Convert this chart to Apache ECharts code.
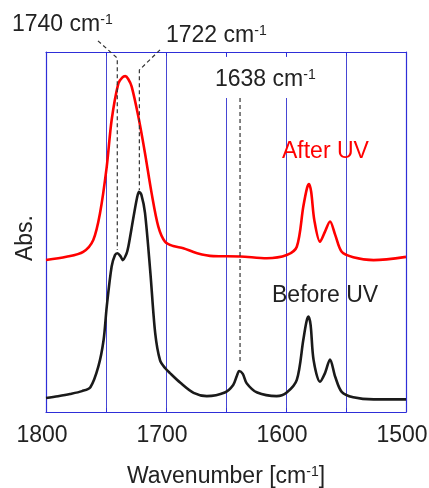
<!DOCTYPE html>
<html>
<head>
<meta charset="utf-8">
<script src="https://cdn.jsdelivr.net/npm/echarts@6/dist/echarts.min.js"></script>
<style>
html,body{margin:0;padding:0;background:#fff;}
#c{width:429px;height:488px;}
</style>
</head>
<body>
<div id="c"></div>
<script>
// Wavenumber [cm-1], absorbance (arbitrary units, offset)
var beforeUV = [
  [1800,3.9],[1790,4.4],[1780,5.0],[1770,5.8],[1763,6.9],[1756.4,12.6],[1752,20],[1749.4,29.2],
  [1745.3,40.4],[1742.5,43.6],[1740.5,44.1],[1738,43.3],[1736,42.2],[1733,43.9],[1731.4,45.9],
  [1727,54.3],[1724,59.7],[1722.5,61.2],[1720.5,60.3],[1717.5,55.3],[1713,38.6],[1709,21.9],
  [1705,14.4],[1700.8,12.2],[1696.7,10.8],[1688,8.1],[1677,5.3],[1666,4.4],[1651,5.4],[1644,7.5],
  [1641,10],[1639,11.4],[1636,10.6],[1632.8,8.0],[1624,5.4],[1607.8,4.4],[1599.4,5.4],[1591,8.9],
  [1585.6,20],[1583,25],[1581.4,26.5],[1579.5,24.2],[1577,14.4],[1571.7,8.4],[1567.5,10.8],
  [1563.3,14.6],[1559,9.8],[1553.6,5.6],[1544,4.1],[1527,3.5],[1500,3.5]
];
var afterUV = [
  [1800,42.2],[1783,43.1],[1769,44.5],[1760.6,47.8],[1755,55.2],[1749.4,68.1],[1745.3,81.1],
  [1739.7,91.3],[1736.5,92.9],[1734,93.3],[1731.5,92.5],[1728.6,90.4],[1723,82.0],[1717.5,71.9],
  [1712,60.8],[1706.4,51.5],[1700.8,47.3],[1694,46.1],[1685.6,45.5],[1674,44.1],[1660.6,43.3],
  [1638,43.2],[1616,42.7],[1599.4,43.6],[1591,45.9],[1585.6,57.0],[1582.5,62.2],[1580.8,63.3],
  [1579,61.1],[1576.4,53.3],[1571.7,47.3],[1567.5,50.1],[1563.3,52.9],[1559,49.2],[1553.6,44.5],
  [1544,43.0],[1527,42.2],[1500,43.1]
];
// annotation leader lines (data coordinates)
var lead1740 = [[1756.7,103.1],[1740.6,98.3],[1740.6,45]];
var lead1722 = [[1705,100.6],[1722.2,95],[1722.2,61.7]];
var lead1638 = [[1638.3,87.2],[1638.3,13.9]];
var xTickLabels = [1800,1700,1600,1500];

var chart = echarts.init(document.getElementById('c'));
var blue = '#2e2ed8';
var gridBlue = '#4646d4';
var txt = '#222222';
var FONT = 'Liberation Sans, Arial, sans-serif';
var rich = {
  a:{fontSize:23,lineHeight:23,fontFamily:FONT,color:txt},
  s:{fontSize:14,lineHeight:14,fontFamily:FONT,color:txt,verticalAlign:'top'}
};
function dashed(data){
  return {type:'line',data:data,showSymbol:false,symbol:'none',clip:false,z:5,silent:true,
    lineStyle:{color:'#333',width:1.2,type:[4,3]}};
}
function lbl(text,x,y,color){
  var r = JSON.parse(JSON.stringify(rich));
  if(color){r.a.color=color;r.s.color=color;}
  return {type:'text',x:x,y:y,z:10,style:{text:text,rich:r,verticalAlign:'top',fill:color||txt,font:'23px '+FONT}};
}
chart.setOption({
  animation:false,
  backgroundColor:'#fff',
  grid:{left:46,right:23,top:52,bottom:76,containLabel:false,outerBoundsMode:'none'},
  xAxis:[{
    type:'value',min:1500,max:1800,interval:50,inverse:true,position:'bottom',
    axisLine:{show:true,onZero:false,lineStyle:{color:blue,width:1.2}},
    axisTick:{show:true,inside:true,length:4,lineStyle:{color:blue}},
    axisLabel:{margin:12,fontSize:23,fontFamily:FONT,color:txt,padding:[0,8,0,0],
      formatter:function(v){return xTickLabels.indexOf(v)>=0?String(v):'';}},
    splitLine:{show:true,lineStyle:{color:gridBlue,width:1}},
    name:'{a|Wavenumber [cm}{s|-1}{a|]}',nameLocation:'middle',nameGap:53,
    nameTextStyle:{rich:rich}
  },{
    type:'value',min:1500,max:1800,interval:50,inverse:true,position:'top',
    axisLine:{show:true,onZero:false,lineStyle:{color:blue,width:1.2}},
    axisTick:{show:true,inside:true,length:4,lineStyle:{color:blue}},
    axisLabel:{show:false},splitLine:{show:false}
  }],
  yAxis:[{
    type:'value',min:0,max:100,position:'left',
    axisLine:{show:true,onZero:false,lineStyle:{color:blue,width:1.2}},
    axisTick:{show:false},axisLabel:{show:false},splitLine:{show:false}
  },{
    type:'value',min:0,max:100,position:'right',
    axisLine:{show:true,onZero:false,lineStyle:{color:blue,width:1.2}},
    axisTick:{show:false},axisLabel:{show:false},splitLine:{show:false}
  }],
  series:[
    {type:'line',data:beforeUV,showSymbol:false,symbol:'none',smooth:0.3,z:3,
      lineStyle:{color:'#1a1a1a',width:2.6}},
    {type:'line',data:afterUV,showSymbol:false,symbol:'none',smooth:0.3,z:3,
      lineStyle:{color:'#ff0000',width:2.6}},
    dashed(lead1740),dashed(lead1722),dashed(lead1638)
  ],
  graphic:[
    {type:'rect',shape:{x:213,y:57,width:88,height:41},style:{fill:'#fff'},z:2},
    lbl('{a|1740 cm}{s|-1}',12,13),
    lbl('{a|1722 cm}{s|-1}',166,24),
    lbl('{a|1638 cm}{s|-1}',215,68),
    lbl('{a|After UV}',282,140,'#ff0000'),
    lbl('{a|Before UV}',272,284),
    {type:'text',x:26,y:238,rotation:Math.PI/2,z:10,
      style:{text:'Abs.',font:'23px '+FONT,fill:txt,align:'center',verticalAlign:'middle'}}
  ]
});
</script>
</body>
</html>
